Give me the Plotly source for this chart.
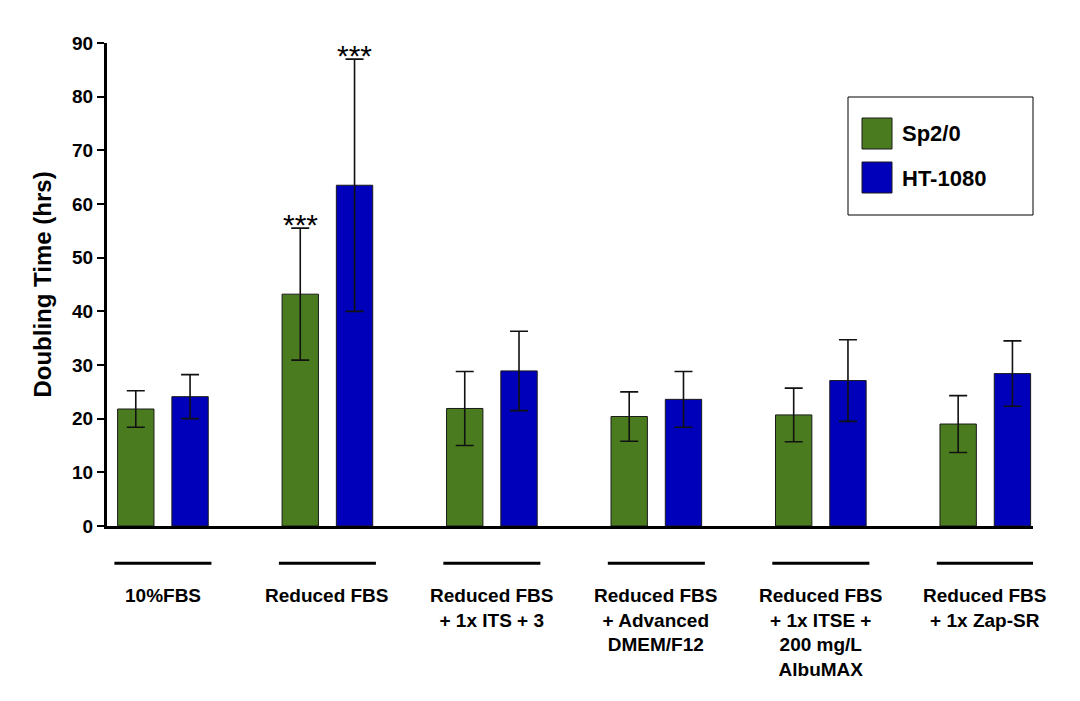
import plotly.graph_objects as go

categories = ["10%FBS", "Reduced FBS", "Reduced FBS<br>+ 1x ITS + 3",
              "Reduced FBS<br>+ Advanced<br>DMEM/F12",
              "Reduced FBS<br>+ 1x ITSE +<br>200 mg/L<br>AlbuMAX",
              "Reduced FBS<br>+ 1x Zap-SR"]
sp20_mean = [21.8, 43.2, 21.9, 20.4, 20.7, 19.0]
sp20_err = [3.4, 12.3, 6.9, 4.6, 5.0, 5.3]
ht1080_mean = [24.1, 63.5, 28.9, 23.6, 27.1, 28.4]
ht1080_err = [4.1, 23.5, 7.4, 5.2, 7.6, 6.1]
series_names = ["Sp2/0", "HT-1080"]
sig_group = 1  # "Reduced FBS" marked ***

GREEN = "#4a7c1f"
BLUE = "#0000bb"
FONT = "Arial, Liberation Sans, Helvetica, sans-serif"
BARGAP = 0.34
BARGROUPGAP = 0.33

xs = list(range(len(categories)))

fig = go.Figure()
for name, mean, err, col in [(series_names[0], sp20_mean, sp20_err, GREEN),
                             (series_names[1], ht1080_mean, ht1080_err, BLUE)]:
    fig.add_trace(go.Bar(
        x=xs, y=mean, name=name,
        marker=dict(color=col, line=dict(color="#1a1a1a", width=1)),
        error_y=dict(type="data", array=err, visible=True,
                     color="#111111", thickness=1.6, width=9),
        showlegend=False,
    ))

# significance stars
off = (1 - BARGAP) / 4
for (mean, err, dx) in [(sp20_mean, sp20_err, -off), (ht1080_mean, ht1080_err, off)]:
    fig.add_annotation(x=sig_group + dx, y=mean[sig_group] + err[sig_group],
                       xref="x", yref="y", text="***", showarrow=False,
                       yanchor="bottom", yshift=-15,
                       font=dict(family=FONT, size=30, color="black"))

# category labels with lines above them
for i, lab in enumerate(categories):
    fig.add_shape(type="line", xref="x", yref="paper",
                  x0=i - 0.295, x1=i + 0.295, y0=-0.077, y1=-0.077,
                  line=dict(color="black", width=3))
    fig.add_annotation(x=i, y=-0.117, xref="x", yref="paper",
                       text="<b>" + lab + "</b>", showarrow=False,
                       yanchor="top", align="center",
                       font=dict(family=FONT, size=19, color="black"))

# manual legend
def px2x(px):
    return (px - 107) / 926.0

def py2y(py):
    return (526 - py) / 483.0

fig.add_shape(type="rect", xref="paper", yref="paper",
              x0=px2x(848), x1=px2x(1033), y0=py2y(215), y1=py2y(97),
              line=dict(color="black", width=1), fillcolor="white")
for k, (name, col) in enumerate(zip(series_names, [GREEN, BLUE])):
    top = 118 + k * 44
    fig.add_shape(type="rect", xref="paper", yref="paper",
                  x0=px2x(862), x1=px2x(892), y0=py2y(top + 31), y1=py2y(top),
                  line=dict(color="#1a1a1a", width=1), fillcolor=col)
    fig.add_annotation(x=px2x(900), y=py2y(top + 16), xref="paper", yref="paper",
                       text="<b>" + name + "</b>", showarrow=False,
                       xanchor="left", yanchor="middle",
                       font=dict(family=FONT, size=22, color="black"))

fig.update_layout(
    width=1080, height=701,
    margin=dict(l=107, r=47, t=43, b=175),
    paper_bgcolor="white", plot_bgcolor="white",
    barmode="group", bargap=BARGAP, bargroupgap=BARGROUPGAP,
    font=dict(family=FONT, color="black"),
)
fig.update_xaxes(range=[-0.34, 5.29], showline=True, linewidth=3, linecolor="black",
                 showticklabels=False, ticks="", showgrid=False, zeroline=False)
fig.update_yaxes(range=[0, 90], dtick=10, tick0=0, showline=True, linewidth=3,
                 linecolor="black", ticks="outside", ticklen=7, tickwidth=2,
                 tickcolor="black", showgrid=False, zeroline=False,
                 tickfont=dict(family=FONT, size=19, color="black", weight="bold"),
                 title=dict(text="<b>Doubling Time (hrs)</b>", standoff=14,
                            font=dict(family=FONT, size=24, color="black")))

fig.write_html("out.html")
